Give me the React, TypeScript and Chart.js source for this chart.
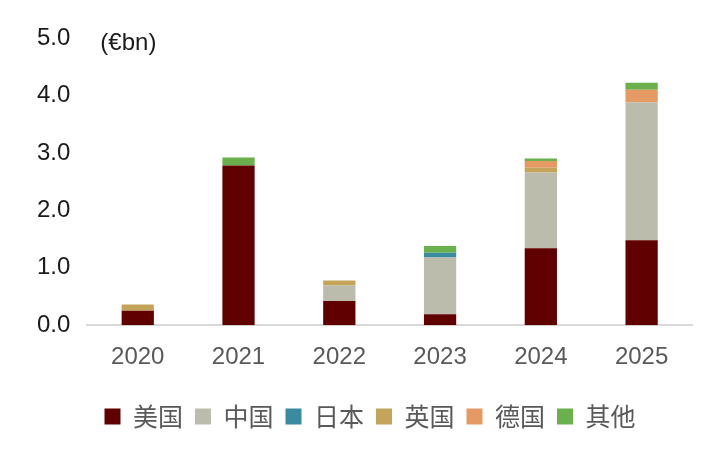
import React, { useEffect, useRef } from "react";
import { Chart, registerables } from "chart.js";

Chart.register(...registerables);

const years = ["2020", "2021", "2022", "2023", "2024", "2025"];
const seriesNames = ["美国", "中国", "日本", "英国", "德国", "其他"];
const usa = [0.25, 2.78, 0.42, 0.19, 1.34, 1.48];
const china = [0, 0, 0.27, 0.99, 1.32, 2.4];
const japan = [0, 0, 0, 0.08, 0, 0];
const uk = [0.11, 0, 0.09, 0, 0.08, 0];
const germany = [0, 0, 0, 0, 0.12, 0.22];
const others = [0, 0.14, 0, 0.12, 0.04, 0.12];
const seriesColors = ["#600000", "#bcbcac", "#3a8aa0", "#c4a35a", "#e59a63", "#6ab04c"];
const yTicks = [0, 1, 2, 3, 4, 5];
const unitLabel = "(€bn)";

const unitPlugin = {
  id: "unitLabel",
  afterLayout(chart: any) {
    const lg = chart.legend;
    if (lg) {
      lg.left += 10;
      lg.right += 10;
    }
  },
  afterDraw(chart: any) {
    const { ctx, chartArea } = chart;
    ctx.save();
    ctx.font = '24px "Liberation Sans", Arial, sans-serif';
    ctx.fillStyle = "#1a1a1a";
    ctx.textBaseline = "middle";
    ctx.textAlign = "left";
    ctx.fillText(unitLabel, chartArea.left + 13, chartArea.top + 5);
    ctx.restore();
  },
};

export default function App() {
  const ref = useRef<HTMLCanvasElement>(null);
  useEffect(() => {
    const values = [usa, china, japan, uk, germany, others];
    const chart = new Chart(ref.current!, {
      type: "bar",
      data: {
        labels: years,
        datasets: seriesNames.map((name, i) => ({
          label: name,
          data: values[i],
          backgroundColor: seriesColors[i],
          borderWidth: 0,
          categoryPercentage: 1,
          barPercentage: 0.32,
        })),
      },
      options: {
        animation: false,
        responsive: false,
        maintainAspectRatio: false,
        layout: { padding: { top: 38, right: 17, left: 28, bottom: 14 } },
        plugins: {
          tooltip: { enabled: false },
          legend: {
            position: "bottom",
            labels: {
              boxWidth: 16,
              boxHeight: 16,
              padding: 12,
              color: "#595959",
              font: { size: 25, family: '"Noto Sans CJK SC", sans-serif' },
            },
          },
        },
        scales: {
          x: {
            stacked: true,
            grid: { display: false },
            border: { display: true, color: "#d9d9d9", width: 2 },
            afterFit: (scale: any) => {
              scale.height += 10;
            },
            ticks: {
              color: "#595959",
              padding: 10,
              font: { size: 24, family: '"Liberation Sans", Arial, sans-serif' },
            },
          },
          y: {
            stacked: true,
            min: 0,
            max: 5,
            grid: { display: false },
            border: { display: false },
            afterBuildTicks: (scale: any) => {
              scale.ticks = yTicks.map((v) => ({ value: v }));
            },
            ticks: {
              color: "#1a1a1a",
              padding: 9,
              font: { size: 24, family: '"Liberation Sans", Arial, sans-serif' },
              callback: (v: any) => Number(v).toFixed(1),
            },
          },
        },
      },
      plugins: [unitPlugin],
    });
    return () => chart.destroy();
  }, []);
  return (
    <div style={{ position: "absolute", left: 0, top: 0, width: 709, height: 453, background: "#fff" }}>
      <canvas ref={ref} width={709} height={453} style={{ width: 709, height: 453 }} />
    </div>
  );
}
